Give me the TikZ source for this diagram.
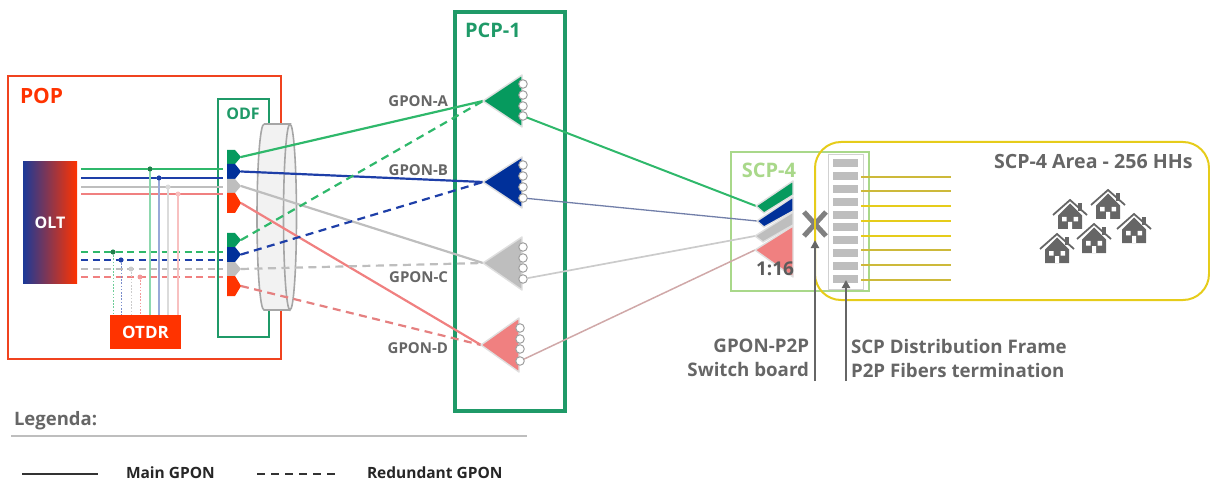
\documentclass[tikz,border=0pt]{standalone}
\usepackage{fontspec}
\setmainfont{Open Sans}
\usetikzlibrary{arrows.meta}
\definecolor{popred}{HTML}{F0431F}
\definecolor{red2}{HTML}{FF3300}
\definecolor{pgreen}{HTML}{1F9A68}
\definecolor{lgreen}{HTML}{2FB86B}
\definecolor{fgreen}{HTML}{069A5E}
\definecolor{nblue}{HTML}{00309A}
\definecolor{lblue}{HTML}{1E3FA8}
\definecolor{fgray}{HTML}{BEBEBE}
\definecolor{pink}{HTML}{F08080}
\definecolor{dgray}{HTML}{666666}
\definecolor{sgreen}{HTML}{A9D88A}
\definecolor{yel}{HTML}{E6CC1A}
\definecolor{yeld}{HTML}{CDB93A}
\tikzset{
 every node/.style={outer sep=0pt},
 lab/.style={font=\bfseries\fontsize{15}{17}\selectfont,text=dgray,inner sep=0pt},
 fiber/.style={line width=2.2pt},
 red dash/.style={fiber,dash pattern=on 8pt off 5.5pt},
 feed/.style={line width=1.8pt},
 feedd/.style={line width=1.8pt,dash pattern=on 7pt off 4.5pt},
 tap/.style={line width=1.1pt},
 tapd/.style={line width=.9pt,dash pattern=on 1.6pt off 1.6pt},
 dotn/.style={circle,inner sep=0pt,minimum size=5pt},
 port/.style={circle,draw=gray!75,fill=white,line width=1pt,inner sep=0pt,minimum size=8.5pt},
 pointer/.style={draw=dgray,line width=2pt,-{Triangle[length=8pt,width=8pt]}},
 slot/.style={fill=fgray,draw=none,minimum width=25pt,minimum height=7.5pt,inner sep=0pt},
 wedge/.style={draw=fgray!50,line width=1.4pt,line join=round},
}
\newcommand{\pent}[4]{% y top, y bottom, colour, name of tip
 \fill[#3] (227,#1)--(235,#1)--(241,{(#1+#2)/2})--(235,#2)--(227,#2)--cycle;
 \coordinate (#4) at (241,{(#1+#2)/2});}
\newcommand{\splt}[6]{% tip x, tip y, right x, top y, bottom y, colour
 \fill[#6,wedge] (#1,#2)--(#3,#4)--(#3,#5)--cycle;}
\newcommand{\hus}[2]{\begin{scope}[shift={(#1,#2)}]
 \fill[dgray] (8,-11) rectangle (11.5,-3);
 \draw[dgray,line width=1.8pt] (-17,1)--(0,-14)--(17,1);
 \fill[dgray] (-12,1.5)--(0,-10.5)--(12,1.5)--(12,15)--(-12,15)--cycle;
 \fill[white] (-8,3) rectangle (-3.5,7.5) (3.5,3) rectangle (8,7.5) (-2,8) rectangle (2,15);
 \end{scope}}
\begin{document}
\begin{tikzpicture}[x=1pt,y=-1pt]
\useasboundingbox (0,0) rectangle (1210,481);
% POP
\node[draw=popred,line width=2.6pt,minimum width=273pt,minimum height=283pt,inner sep=0pt,anchor=north west] (pop) at (8,76) {};
\node[anchor=west,font=\bfseries\fontsize{21}{23}\selectfont,text=red2,inner sep=0pt] (poplab) at (20,96) {POP};
% ODF
\node[draw=pgreen,fill=white,line width=1.7pt,minimum width=51pt,minimum height=238pt,inner sep=0pt,anchor=north west] (odf) at (218,99) {};
\node[font=\bfseries\fontsize{16}{18}\selectfont,text=pgreen,inner sep=0pt] (odflab) at (243,114) {ODF};
% OLT
\node[left color=lblue!90!black,right color=red2,draw=none,minimum width=54pt,minimum height=121pt,inner sep=0pt,anchor=north west,text=white,font=\bfseries\fontsize{16}{18}\selectfont] (olt) at (23,162) {OLT};
% OTDR
\node[fill=red2,minimum width=71pt,minimum height=34pt,inner sep=0pt,anchor=north west,text=white,font=\bfseries\fontsize{17}{19}\selectfont] (otdr) at (110,315) {OTDR};
% feeders
\foreach \nm/\xs/\ys/\xt/\yt/\c/\st in {
 a/81/169/223/169/lgreen/feed, b/81/178/223/178/lblue/feed, c/81/187/223/187/fgray/feed, d/81/194/223/194/pink/feed,
 e/81/252/223/252/lgreen/feedd, f/81/260/223/260/lblue/feedd, g/81/269/223/269/fgray/feedd, h/81/277/223/277/pink/feedd}{
 \coordinate (s\nm) at (\xs,\ys); \coordinate (t\nm) at (\xt,\yt);
 \draw[\c,\st] (s\nm)--(t\nm);
}
\foreach \nm/\x/\y/\c/\st in {
 a/150/169/lgreen!55/tap, b/159/178/lblue!45/tap, c/168/187/fgray!55/tap, d/178/194/pink!50/tap,
 e/113/252/lgreen!70/tapd, f/121/260/lblue!60/tapd, g/131/269/fgray!80/tapd, h/140/277/pink!80/tapd}{
 \node[dotn,fill=\c] (j\nm) at (\x,\y) {};
 \coordinate (o\nm) at (\x,315);
 \draw[\c,\st] (j\nm.center)--(o\nm);
}
\node[dotn,fill=lgreen!70!black] at (ja) {};
\node[dotn,fill=lblue] at (jb) {};
\node[dotn,fill=lgreen!70!black] at (je) {};
\node[dotn,fill=lblue] at (jf) {};
% cylinder
\fill[gray!10] (264,124) -- (290,124) arc[start angle=90,end angle=-90,x radius=6.5pt,y radius=93pt] -- (264,310) arc[start angle=270,end angle=90,x radius=7pt,y radius=93pt] -- cycle;
\draw[gray!70,line width=1.6pt] (264,124)--(290,124) arc[start angle=90,end angle=450,x radius=6.5pt,y radius=93pt] (290,310)--(264,310) arc[start angle=270,end angle=90,x radius=7pt,y radius=93pt];
% ODF connectors
\pent{150}{164}{fgreen}{ca}
\pent{164}{179}{nblue}{cb}
\pent{179}{193}{fgray}{cc}
\pent{193}{213}{red2}{cd}
\pent{233}{247}{fgreen}{ce}
\pent{247}{262}{nblue}{cf}
\pent{262}{276}{fgray}{cg}
\pent{276}{296}{red2}{ch}
% PCP
\node[draw=pgreen,line width=3.6pt,minimum width=110pt,minimum height=399pt,inner sep=0pt,anchor=north west] (pcp) at (455,12) {};
\node[anchor=west,font=\bfseries\fontsize{20}{22}\selectfont,text=pgreen,inner sep=0pt] (pcplab) at (465,30) {PCP-1};
% tips of splitters
\coordinate (ta) at (483,101);\coordinate (tb) at (483,182);\coordinate (tc) at (483,263);\coordinate (td) at (481,345);
% fibres ODF -> PCP
\draw[lgreen,fiber] (ca)--(ta);
\draw[lblue,fiber] (cb)--(tb);
\draw[fgray,fiber] (cc)--(tc);
\draw[pink,fiber] (cd)--(td);
\draw[lgreen,red dash] (ce)--(ta);
\draw[lblue,red dash] (cf)--(tb);
\draw[fgray,red dash] (cg)--(tc);
\draw[pink!90!gray,red dash] (ch)--(td);
% splitters
\splt{483}{101}{522}{75}{127}{fgreen}
\splt{483}{182}{522}{157}{208}{nblue}
\splt{483}{263}{522}{237}{290}{fgray}
\splt{481}{345}{519}{318}{372}{pink}
\foreach \nm/\x/\ya/\yb/\yc/\yd in {a/523/84/95/106/116, b/523/165/176/187/198, c/523/247/258/268/279, d/520/328/339/349/361}{
 \node[port] (p\nm1) at (\x,\ya) {};
 \node[port] (p\nm2) at (\x,\yb) {};
 \node[port] (p\nm3) at (\x,\yc) {};
 \node[port] (p\nm4) at (\x,\yd) {};
}
\node[lab,anchor=east] (ga) at (448,101) {GPON-A};
\node[lab,anchor=east] (gb) at (448,170) {GPON-B};
\node[lab,anchor=east] (gc) at (448,277) {GPON-C};
\node[lab,anchor=east] (gd) at (448,348) {GPON-D};
% SCP
\node[draw=sgreen,fill=white,line width=2.4pt,minimum width=138pt,minimum height=139pt,inner sep=0pt,anchor=north west] (scp) at (731,152) {};
\node[font=\bfseries\fontsize{20}{22}\selectfont,text=sgreen,inner sep=0pt] (scplab) at (769,170) {SCP-4};
% area
\node[draw=yel,line width=2pt,rounded corners=26pt,minimum width=394pt,minimum height=158pt,inner sep=0pt,anchor=north west] (area) at (815,142) {};
% frame
\node[draw=fgray!70,fill=white,line width=1pt,minimum width=35pt,minimum height=134pt,inner sep=0pt,anchor=north west] (frame) at (828,155) {};
\foreach \i/\y in {1/163,2/176,3/189,4/202,5/215,6/227,7/240,8/253,9/266,10/279}{
 \node[slot] (sl\i) at (845.5,\y) {};
}
\foreach \i/\y/\c in {1/177/yeld,2/191/yeld,3/206/yel,4/221/yel,5/236/yel,6/250/yeld,7/265/yeld,8/280/yeld}{
 \coordinate (la\i) at (861,\y); \coordinate (lb\i) at (951,\y);
 \draw[\c,line width=2.2pt] (la\i)--(lb\i);
}
% stacked splitters
\coordinate (sa) at (756,206);\coordinate (sb) at (757,221);\coordinate (sc) at (755,236);\coordinate (sd) at (755,250);
\draw[lgreen,line width=2pt] (pa4)--(sa);
\draw[lblue!50!gray!80,line width=1.3pt] (pb4)--(sb);
\draw[fgray!80,line width=1.7pt] (pc4)--(sc);
\draw[pink!35!fgray,line width=1.5pt] (pd4)--(sd);
\fill[fgreen,wedge] (sa)--(793,181)--(793,195)--(764,213)--cycle;
\fill[nblue,wedge] (sb)--(793,197)--(793,211)--(764,227)--cycle;
\fill[fgray,wedge] (sc)--(793,212)--(793,225)--(763,242)--cycle;
\fill[pink,wedge] (sd)--(793,226)--(793,277)--cycle;
\node[font=\bfseries\fontsize{19}{21}\selectfont,text=dgray!90!black,inner sep=0pt] (ratio) at (775,269) {1:16};
% switch X
\coordinate (xc) at (815,224);
\draw[gray,line width=5pt] ([shift={(-11,-12)}]xc)--([shift={(11,12)}]xc) ([shift={(-11,12)}]xc)--([shift={(11,-12)}]xc);
\draw[yel,line width=1.5pt] (815,212)--(815,240);
% pointers
\coordinate (ar1) at (815,381);\coordinate (ar2) at (846,381);
\coordinate (at1) at (815,240);\coordinate (at2) at (846,280);
\draw[pointer] (ar1)--(at1);
\draw[pointer] (ar2)--(at2);
\node[lab,anchor=east,align=right,font=\bfseries\fontsize{18.7}{24}\selectfont] (sw) at (809,358) {GPON-P2P\\Switch board};
\node[lab,anchor=west,align=left,font=\bfseries\fontsize{18.7}{24}\selectfont] (sd2) at (851,358) {SCP Distribution Frame\\P2P Fibers termination};
\node[lab,anchor=west,font=\bfseries\fontsize{19.6}{22}\selectfont] (area lab) at (994,162) {SCP-4 Area - 256 HHs};
\hus{1070}{214}\hus{1108}{204}\hus{1134}{228}\hus{1094}{238}\hus{1057}{248}
% legend
\node[lab,anchor=west,font=\bfseries\fontsize{18.5}{20}\selectfont] (leg) at (14,421) {Legenda:};
\coordinate (l1) at (11,436);\coordinate (l2) at (527,436);
\draw[fgray,line width=2pt] (l1)--(l2);
\coordinate (m1) at (22,474);\coordinate (m2) at (98,474);
\draw[black!80,line width=1.6pt] (m1)--(m2);
\coordinate (n1) at (257,474);\coordinate (n2) at (336,474);
\draw[black!80,line width=1.6pt,dash pattern=on 8pt off 6pt] (n1)--(n2);
\node[anchor=west,inner sep=0pt,text=black!85,font=\bfseries\fontsize{15.5}{17}\selectfont] (mg) at (126,472.5) {Main GPON};
\node[anchor=west,inner sep=0pt,text=black!85,font=\bfseries\fontsize{15.5}{17}\selectfont] (rg) at (367,472.5) {Redundant GPON};
\end{tikzpicture}
\end{document}
